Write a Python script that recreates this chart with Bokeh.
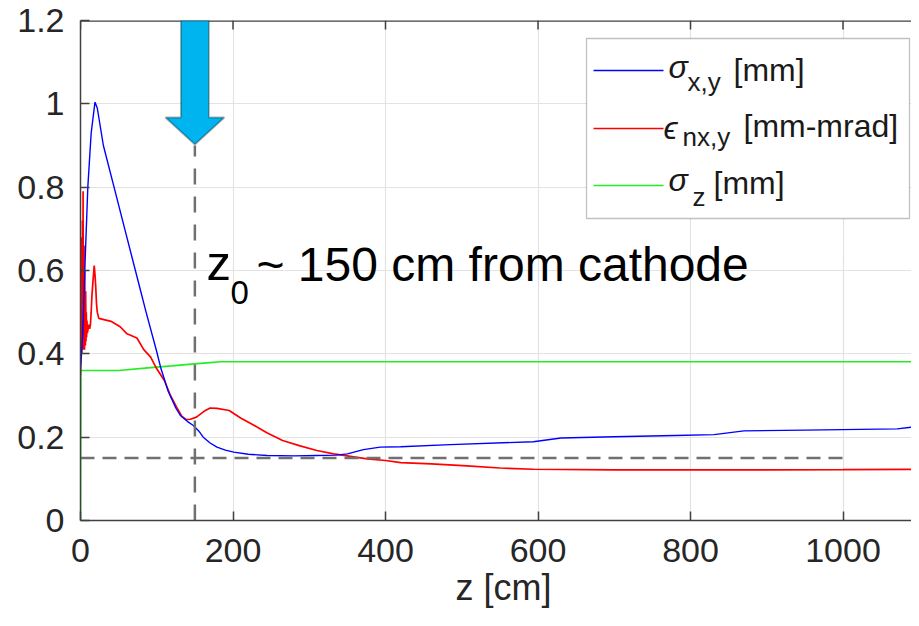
from bokeh.plotting import figure
from bokeh.models import (Range1d, FixedTicker, Label, BoxAnnotation, Span,
                          PolyAnnotation, Arrow)
from bokeh.embed import file_html
from bokeh.resources import INLINE

# ---------------- data ----------------
z_sigma_xy = [0, 3, 6, 9.6, 14, 19, 22, 30, 44, 58, 72, 86, 100, 105, 115, 125, 131, 140,
              148, 155, 161, 170, 179, 190, 201, 220, 245, 280, 310, 335, 350, 371, 393,
              420, 485, 594, 630, 700, 780, 831, 870, 950, 1071, 1100]
sigma_xy = [0.36, 0.45, 0.62, 0.8, 0.93, 1.004, 0.99, 0.9, 0.8, 0.7, 0.6, 0.5, 0.405, 0.368,
            0.31, 0.27, 0.252, 0.238, 0.228, 0.215, 0.2, 0.186, 0.176, 0.169, 0.164, 0.159,
            0.156, 0.155, 0.156, 0.157, 0.16, 0.17, 0.176, 0.177, 0.182, 0.189, 0.198, 0.201,
            0.204, 0.206, 0.215, 0.217, 0.22, 0.226]

z_emit = [0, 0.2, 0.4, 0.6, 0.8, 1.0, 1.2, 1.4, 1.6, 1.8, 2.0, 2.2, 2.4, 2.6, 2.8, 3.0,
          3.2, 3.4, 3.6, 3.8, 4.0, 4.2, 4.4, 4.6, 4.8, 5.0, 5.3, 5.6, 5.9, 6.2, 6.5, 6.8,
          7.2, 7.6, 8.0, 8.5, 9, 10, 11, 12,
          13, 14, 15, 16.6, 18, 19, 20, 21, 22, 24, 40, 52, 61, 74, 83, 92, 100, 110, 118,
          126, 133, 139, 144, 152, 162, 170, 179, 195, 210, 228, 245, 265, 288, 310, 332,
          354, 376, 400, 420, 460, 507, 550, 594, 700, 813, 900, 1000, 1100]
emit_nxy = [0.35, 0.5, 0.38, 0.56, 0.4, 0.62, 0.41, 0.55, 0.4, 0.68, 0.42, 0.6, 0.41, 0.72,
            0.43, 0.58, 0.42, 0.79, 0.44, 0.62, 0.41, 0.57, 0.43, 0.66, 0.42, 0.54, 0.41,
            0.6, 0.43, 0.52, 0.42, 0.55, 0.43, 0.5, 0.44, 0.48, 0.45,
            0.46, 0.47, 0.46, 0.47, 0.5, 0.54, 0.58, 0.612, 0.59, 0.56, 0.52,
            0.5, 0.485, 0.478, 0.465, 0.448, 0.438, 0.41, 0.392, 0.364, 0.336, 0.3, 0.272,
            0.25, 0.242, 0.243, 0.248, 0.262, 0.27, 0.269, 0.264, 0.246, 0.228, 0.21, 0.192,
            0.179, 0.168, 0.16, 0.154, 0.148, 0.144, 0.139, 0.136, 0.131, 0.126, 0.123,
            0.1216, 0.1214, 0.1216, 0.122, 0.123, 0.124]

z_sigma_z = [0, 0.5, 50, 92, 120, 149, 170, 184, 250, 400, 600, 800, 1000, 1100]
sigma_z = [0, 0.36, 0.36, 0.367, 0.371, 0.376, 0.379, 0.381, 0.381, 0.381, 0.381, 0.381,
           0.381, 0.381]

z0 = 150              # cm from cathode
z0_line_top = 0.9
target_sigma = 0.15
target_z_end = 1000

x_ticks = [0, 200, 400, 600, 800, 1000]
y_ticks = [0, 0.2, 0.4, 0.6, 0.8, 1, 1.2]

# ---------------- layout helpers ----------------
FIG_W, FIG_H = 911, 610
BL, BT, BB = 80, 20, 90
frame_w = FIG_W - BL
frame_h = FIG_H - BT - BB
PX_PER_CM = 0.7625
X_END = frame_w / PX_PER_CM
Y_END = 1.2
ppx = frame_w / X_END
ppy = frame_h / Y_END
PAGE_X0 = BL            # picture x of z=0
PAGE_Y0 = BT + frame_h  # picture y of value 0


def dx(px):
    return (px - PAGE_X0) / ppx


def dy(py):
    return (PAGE_Y0 - py) / ppy


FONT = "Liberation Sans"
AX = "#404040"

p = figure(width=FIG_W, height=FIG_H, output_backend="svg", toolbar_location=None,
           x_range=Range1d(0, X_END), y_range=Range1d(0, Y_END),
           min_border_left=BL, min_border_right=0, min_border_top=BT,
           min_border_bottom=BB, background_fill_color="white",
           border_fill_color="white")
p.outline_line_color = None

for ax in (p.xaxis[0], p.yaxis[0]):
    ax.axis_line_color = AX
    ax.axis_line_width = 1.5
    ax.major_tick_line_color = AX
    ax.major_tick_line_width = 1.5
    ax.major_tick_in = 9
    ax.major_tick_out = 0
    ax.minor_tick_line_color = None
    ax.major_label_text_font = FONT
    ax.major_label_text_font_size = "34px"
    ax.major_label_text_color = "#262626"

p.xaxis[0].ticker = FixedTicker(ticks=x_ticks)
p.yaxis[0].ticker = FixedTicker(ticks=y_ticks)
p.yaxis[0].major_label_overrides = {0: "0", 1: "1", 1.2: "1.2"}
p.xaxis[0].major_label_standoff = 18
p.yaxis[0].major_label_standoff = 16

p.xgrid.ticker = FixedTicker(ticks=x_ticks)
p.ygrid.ticker = FixedTicker(ticks=y_ticks)
p.grid.grid_line_color = "#e3e3e3"
p.grid.grid_line_width = 1.2

# top border of the axes box with inward ticks
p.add_layout(Span(location=Y_END, dimension="width", line_color=AX, line_width=2.5))
p.segment(x0=x_ticks, y0=[Y_END] * len(x_ticks), x1=x_ticks,
          y1=[Y_END - 9 / ppy] * len(x_ticks), line_color=AX, line_width=1.5)

# ---------------- curves ----------------
p.line(z_sigma_z, sigma_z, line_color="#22ee22", line_width=1.6)
p.line(z_emit, emit_nxy, line_color="#ff0000", line_width=1.7)
p.line(z_sigma_xy, sigma_xy, line_color="#0000ff", line_width=1.4)

# reference lines
p.line([0, target_z_end], [target_sigma, target_sigma], line_color="#707070",
       line_width=2.5, line_dash="14 8")
p.line([z0, z0], [0, z0_line_top], line_color="#707070", line_width=2.5,
       line_dash="16 12")

# ---------------- arrow ----------------
cx = z0
shaft_half = 14 / ppx
head_half = 29.5 / ppx
head_top = dy(117)
tip = dy(144)
p.add_layout(PolyAnnotation(
    xs=[cx - shaft_half, cx + shaft_half, cx + shaft_half, cx + head_half, cx,
        cx - head_half, cx - shaft_half],
    ys=[Y_END, Y_END, head_top, head_top, tip, head_top, head_top],
    fill_color="#00b4f0", fill_alpha=1.0, line_color="black", line_width=1.8))


def label(txt, px, base_py, size_px, color="black", style="normal", align="left",
          place=None):
    # base_py: wanted glyph baseline; Label's default "bottom" baseline sits ~0.2em lower
    lab = Label(x=dx(px), y=dy(base_py + 0.2 * size_px), text=txt, text_font=FONT,
                text_font_size=f"{size_px}px", text_font_style=style, text_color=color,
                text_align=align)
    if place is None:
        p.add_layout(lab)
    else:
        p.add_layout(lab, place)


# ---------------- annotation text ----------------
label("z", 206, 280, 49)
label("0", 230, 297, 33)
label("~ 150 cm from cathode", 256, 281, 48)

# x-axis title, low in the bottom border panel as in the reference
label("z [cm]", 503, 600, 36, color="#262626", align="center", place="below")

# ---------------- legend ----------------
p.add_layout(BoxAnnotation(left=dx(586), right=dx(909), top=dy(38), bottom=dy(218),
                           fill_color="white", fill_alpha=1.0, line_color="#333333",
                           line_width=1.3))
rows = [
    ("#0000ff", 70, [("σ", 668, 78, 32, "italic"), ("x,y", 687, 91, 26, "normal"),
                     ("[mm]", 733, 81, 32, "normal")]),
    ("#ff0000", 128, [("ϵ", 663, 139, 32, "italic"), ("nx,y", 682, 146, 26, "normal"),
                      ("[mm-mrad]", 743, 137, 32, "normal")]),
    ("#22ee22", 185, [("σ", 668, 191, 32, "italic"), ("z", 692, 206, 26, "normal"),
                      ("[mm]", 713, 194, 32, "normal")]),
]
for color, ly, parts in rows:
    p.add_layout(Arrow(x_start=dx(593), y_start=dy(ly), x_end=dx(663), y_end=dy(ly),
                       end=None, start=None, line_color=color, line_width=1.5))
    for txt, tx, ty, fs, style in parts:
        label(txt, tx, ty, fs, color="#1a1a1a", style=style)

open("out.html", "w").write(file_html(p, INLINE))
